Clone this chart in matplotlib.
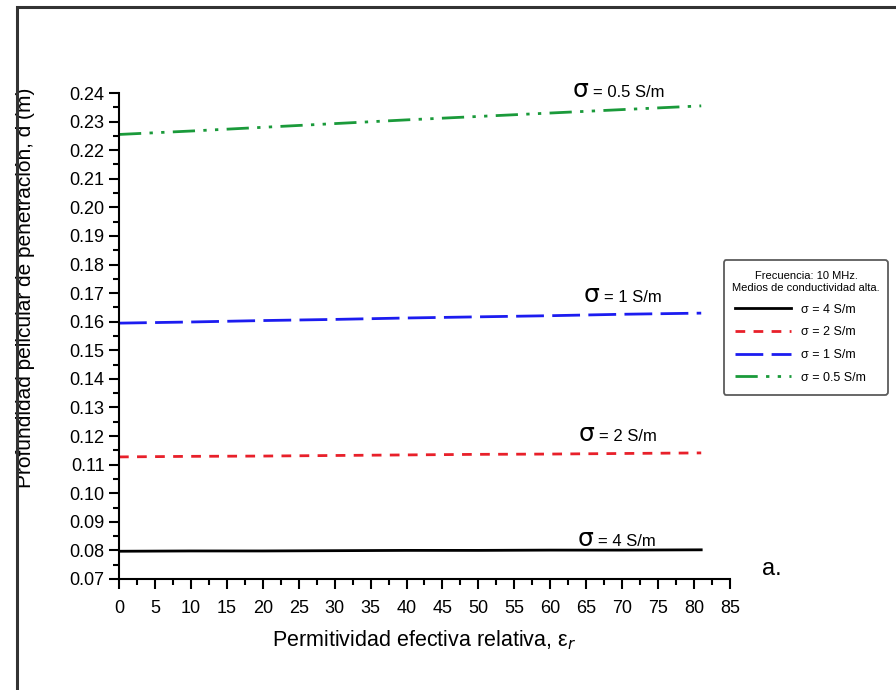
import matplotlib
matplotlib.use('Agg')
import matplotlib.pyplot as plt
from matplotlib.patches import Rectangle
from matplotlib.ticker import MultipleLocator

plt.rcParams['font.family'] = ['Liberation Sans', 'DejaVu Sans']

# datos
permitividad = [0, 10, 20, 30, 40, 50, 60, 70, 81]
d_sigma_4 = [0.0797, 0.0798, 0.0798, 0.0799, 0.0800, 0.0800, 0.0801, 0.0801, 0.0802]
d_sigma_2 = [0.1127, 0.1129, 0.1130, 0.1132, 0.1134, 0.1136, 0.1137, 0.1139, 0.1141]
d_sigma_1 = [0.1595, 0.1599, 0.1604, 0.1608, 0.1613, 0.1617, 0.1621, 0.1626, 0.1630]
d_sigma_05 = [0.2255, 0.2267, 0.2280, 0.2293, 0.2306, 0.2318, 0.2330, 0.2342, 0.2355]
etiquetas = ['σ = 4 S/m', 'σ = 2 S/m', 'σ = 1 S/m', 'σ = 0.5 S/m']
textos_curva = ['= 4 S/m', '= 2 S/m', '= 1 S/m', '= 0.5 S/m']

fig = plt.figure(figsize=(8.96, 6.90), dpi=100)
ax = fig.add_axes([0.1328, 0.1609, 0.6819, 0.7043])

# marco exterior de la figura
fig.patches.append(Rectangle((0.019, -0.2), 1.2, 1.19, transform=fig.transFigure,
                             fill=False, edgecolor='#333333', linewidth=2.2, clip_on=False))

l4, = ax.plot(permitividad, d_sigma_4, color='black', linewidth=2)
l2, = ax.plot(permitividad, d_sigma_2, color='#e8202a', linewidth=2, linestyle=(0, (3.5, 3)))
l1, = ax.plot(permitividad, d_sigma_1, color='#1c1cf0', linewidth=2, linestyle=(0, (10, 3)))
l05, = ax.plot(permitividad, d_sigma_05, color='#1a9a3a', linewidth=2,
               linestyle=(0, (8, 3, 1.2, 3, 1.2, 3)))

# etiquetas sobre las curvas
pos_sigma = [(63.8, 0.0817), (63.9, 0.1183), (64.6, 0.1670), (63.1, 0.2385)]
for (xs, ys), txt in zip(pos_sigma, textos_curva):
    ax.text(xs, ys, 'σ', fontsize=18, va='baseline', family=['DejaVu Sans'])
    ax.text(xs + 2.9, ys, txt, fontsize=12, va='baseline')

ax.text(89.5, 0.0715, 'a.', fontsize=17, clip_on=False)

ax.set_xlim(0, 85)
ax.set_ylim(0.07, 0.24)
ax.xaxis.set_major_locator(MultipleLocator(5))
ax.xaxis.set_minor_locator(MultipleLocator(2.5))
ax.yaxis.set_major_locator(MultipleLocator(0.01))
ax.yaxis.set_minor_locator(MultipleLocator(0.005))
ax.yaxis.set_major_formatter(plt.FormatStrFormatter('%.2f'))
ax.tick_params(which='major', direction='out', length=7, width=1.5, labelsize=13)
ax.tick_params(which='minor', direction='out', length=4, width=1.5)
ax.tick_params(axis='x', pad=8)
for s in ['top', 'right']:
    ax.spines[s].set_visible(False)
for s in ['left', 'bottom']:
    ax.spines[s].set_linewidth(1.5)

ax.set_xlabel('Permitividad efectiva relativa, ε$_r$', fontsize=15.5, labelpad=8)
ax.set_ylabel('Profundidad pelicular de penetración, d (m)', fontsize=15)
ax.yaxis.set_label_coords(-0.137, 0.6)

leg = fig.legend([l4, l2, l1, l05], etiquetas, loc='upper left',
                 bbox_to_anchor=(0.801, 0.632, 0.197, 0.0), mode='expand', fontsize=9,
                 title='Frecuencia: 10 MHz.\nMedios de conductividad alta.',
                 title_fontsize=8, handlelength=4.5, labelspacing=0.85, alignment='center',
                 frameon=True, fancybox=True, borderpad=0.9)
leg.get_title().set_multialignment('center')
leg.get_frame().set_edgecolor('#333333')
leg.get_frame().set_linewidth(1.3)

fig.savefig('out.png', dpi=100)
